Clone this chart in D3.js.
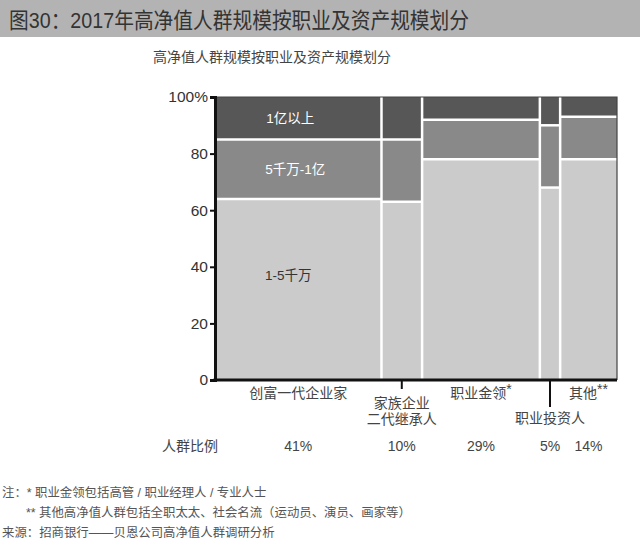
<!DOCTYPE html>
<html>
<head>
<meta charset="utf-8">
<script src="https://cdn.jsdelivr.net/npm/d3@7"></script>
<style>
  body { margin: 0; background: #fff; }
  svg { display: block; font-family: "Liberation Sans", Arial, "Noto Sans CJK SC", sans-serif; }
</style>
</head>
<body>
<svg id="chart" width="640" height="547"></svg>
<script>
// groups along the x axis, width = share of HNWI population
const groups = ['创富一代企业家', '家族企业二代继承人', '职业金领', '职业投资人', '其他'];
const groupLines = [['创富一代企业家'], ['家族企业', '二代继承人'], ['职业金领'], ['职业投资人'], ['其他']];
const groupMarks = ['', '', '*', '', '**'];
const shares = [41, 10, 29, 5, 14];

// asset tiers, stacked bottom to top (percent within each group)
const tiers = ['1-5千万', '5千万-1亿', '1亿以上'];
const tierLow = [64, 63, 78, 68, 78];
const tierMid = [21, 22, 14, 22, 15];
const tierHigh = [15, 15, 8, 10, 7];

const yTicks = [0, 20, 40, 60, 80, 100];
const notes = [
  '注：* 职业金领包括高管 / 职业经理人 / 专业人士',
  '** 其他高净值人群包括全职太太、社会名流（运动员、演员、画家等）',
  '来源：招商银行——贝恩公司高净值人群调研分析'
];

const svg = d3.select('#chart');
const tierColors = ['#cbcbcb', '#898989', '#575757'];

// title bar
svg.append('rect').attr('x', 0).attr('y', 0).attr('width', 640).attr('height', 37).attr('fill', '#b3b3b3');
svg.append('text')
  .attr('x', 9).attr('y', 28)
  .attr('font-size', 22)
  .attr('textLength', 460).attr('lengthAdjust', 'spacingAndGlyphs')
  .attr('fill', '#333')
  .text('图30：2017年高净值人群规模按职业及资产规模划分');

svg.append('text')
  .attr('x', 272).attr('y', 62)
  .attr('text-anchor', 'middle')
  .attr('font-size', 14)
  .attr('fill', '#444')
  .text('高净值人群规模按职业及资产规模划分');

// scales
const total = d3.sum(shares);
const x = d3.scaleLinear().domain([0, total]).range([215, 617]);
const y = d3.scaleLinear().domain([0, 100]).range([380, 97]);

// build mosaic cells
const starts = d3.cumsum([0].concat(shares.slice(0, -1)));
const cells = [];
groups.forEach((g, i) => {
  const vals = [tierLow[i], tierMid[i], tierHigh[i]];
  let acc = 0;
  vals.forEach((v, j) => {
    cells.push({ g: i, tier: j, x0: starts[i], x1: starts[i] + shares[i], y0: acc, y1: Math.min(100, acc + v) });
    acc += v;
  });
});

const plot = svg.append('g');
plot.selectAll('rect.cell')
  .data(cells)
  .join('rect')
  .attr('class', 'cell')
  .attr('x', d => x(d.x0))
  .attr('width', d => x(d.x1) - x(d.x0))
  .attr('y', d => y(d.y1))
  .attr('height', d => y(d.y0) - y(d.y1))
  .attr('fill', d => tierColors[d.tier]);

// white separators between layers
plot.selectAll('line.hsep')
  .data(cells.filter(d => d.y1 < 100))
  .join('line')
  .attr('x1', d => x(d.x0)).attr('x2', d => x(d.x1))
  .attr('y1', d => y(d.y1)).attr('y2', d => y(d.y1))
  .attr('stroke', '#fff').attr('stroke-width', 2.5);

// white separators between columns
plot.selectAll('line.vsep')
  .data(starts.slice(1))
  .join('line')
  .attr('x1', d => x(d)).attr('x2', d => x(d))
  .attr('y1', y(100)).attr('y2', y(0))
  .attr('stroke', '#fff').attr('stroke-width', 2.5);

// frame top / right
svg.append('path')
  .attr('d', `M${x(0)},${y(100)}H${x(total)}V${y(0)}`)
  .attr('fill', 'none').attr('stroke', '#444').attr('stroke-width', 1.2);

// y axis
const yAxis = svg.append('g')
  .attr('transform', `translate(${x(0)},0)`)
  .call(d3.axisLeft(y).tickValues(yTicks).tickSize(5).tickPadding(2)
    .tickFormat(d => d === 100 ? '100%' : d));
yAxis.select('.domain').attr('stroke', '#111').attr('stroke-width', 3);
yAxis.selectAll('.tick line').attr('stroke', '#111').attr('stroke-width', 2);
yAxis.selectAll('.tick text').attr('font-size', 15.5).attr('fill', '#333')
  .attr('font-family', '"Liberation Sans", Arial, sans-serif');

// bottom axis line
svg.append('line')
  .attr('x1', x(0) - 1.5).attr('x2', x(total))
  .attr('y1', y(0)).attr('y2', y(0))
  .attr('stroke', '#111').attr('stroke-width', 3);

// tier labels inside the first column
const c0 = (x(starts[0]) + x(starts[0] + shares[0])) / 2 - 4;
svg.append('text').attr('x', c0 - 4).attr('y', y(tierLow[0] + tierMid[0] + tierHigh[0] / 2) + 5)
  .attr('text-anchor', 'middle').attr('font-size', 13.5).attr('fill', '#fff').text(tiers[2]);
svg.append('text').attr('x', c0 + 1).attr('y', y(tierLow[0] + tierMid[0] / 2) + 5)
  .attr('text-anchor', 'middle').attr('font-size', 13.5).attr('fill', '#fff').text(tiers[1]);
svg.append('text').attr('x', c0 - 6).attr('y', 280)
  .attr('text-anchor', 'middle').attr('font-size', 13.5).attr('fill', '#333').text(tiers[0]);

// x category labels
const centers = shares.map((s, i) => x(starts[i] + s / 2));
const lowered = [false, false, false, true, false];

// small ticks under the narrow columns
[1, 3].forEach(i => {
  svg.append('line')
    .attr('x1', centers[i]).attr('x2', centers[i])
    .attr('y1', y(0)).attr('y2', lowered[i] ? 407 : 389)
    .attr('stroke', '#111').attr('stroke-width', 2);
});

groupLines.forEach((lines, i) => {
  const baseY = lowered[i] ? 423 : (lines.length > 1 ? 408 : 398);
  lines.forEach((ln, k) => {
    const t = svg.append('text')
      .attr('x', centers[i]).attr('y', baseY + k * 16)
      .attr('text-anchor', 'middle')
      .attr('font-size', 14).attr('fill', '#444')
      .text(ln);
    if (k === lines.length - 1 && groupMarks[i]) {
      t.append('tspan').attr('dy', -4).attr('font-size', 14).text(groupMarks[i]);
    }
  });
});

// population share row
svg.append('text').attr('x', 162).attr('y', 451)
  .attr('font-size', 14).attr('fill', '#444').text('人群比例');
svg.selectAll('text.share')
  .data(shares)
  .join('text')
  .attr('class', 'share')
  .attr('x', (d, i) => centers[i]).attr('y', 451)
  .attr('text-anchor', 'middle')
  .attr('font-size', 14).attr('fill', '#444')
  .text(d => d + '%');

// notes
svg.selectAll('text.note')
  .data(notes)
  .join('text')
  .attr('class', 'note')
  .attr('x', (d, i) => i === 1 ? 26 : 2)
  .attr('y', (d, i) => 497 + i * 20)
  .attr('font-size', 12.4).attr('fill', '#555')
  .text(d => d);
</script>
</body>
</html>
